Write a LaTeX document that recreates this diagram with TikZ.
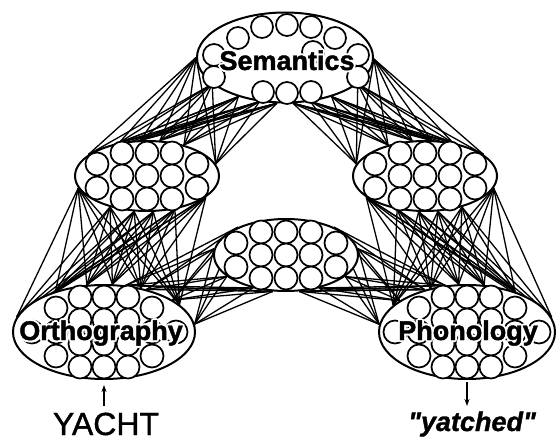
\documentclass[tikz,border=0pt]{standalone}
\usepackage{fontspec}
\usetikzlibrary{arrows.meta, shapes.geometric, backgrounds}
\newfontfamily\arialish{Liberation Sans}[FakeBold=1.2]
\newfontfamily\arialheavy{Liberation Sans Bold}[FakeBold=1.5]
\newfontfamily\arialslant{Liberation Sans Bold Italic}[FakeBold=1.2]
\tikzset{
  layer/.style = {draw=black, line width=2pt, ellipse, fill=white, inner sep=0pt},
  unit/.style  = {draw=black, line width=1.7pt, fill=white},
  link/.style  = {line width=1.3pt},
  lab/.style   = {font=\arialheavy\fontsize{27}{27}\selectfont, anchor=base, inner sep=0pt},
  inp/.style   = {-{Stealth[length=7pt, width=5pt]}, line width=1.6pt},
  word/.style  = {font=\arialish\fontsize{32}{32}\selectfont, anchor=base, inner sep=0pt},
}
\newcommand{\hiddenunits}[1]{%
  \begin{scope}[shift={(#1)}]
    \foreach \dx in {-25,0,25} \foreach \dy in {-23,0,23}
      \draw[unit] (\dx,\dy) circle (11.5pt);
    \foreach \dx in {-50,50} \foreach \dy in {-12,12}
      \draw[unit] (\dx,\dy) circle (11.5pt);
  \end{scope}}
\newcommand{\ioundunits}[1]{%
  \begin{scope}[shift={(#1)}]
    \foreach \dx in {-24,0,24} \foreach \dy in {-35,-12,12,35}
      \draw[unit] (\dx,\dy) circle (11.5pt);
    \foreach \dx in {-48,48} \foreach \dy in {-24,0,24}
      \draw[unit] (\dx,\dy) circle (11.5pt);
    \foreach \dx in {-72,72}
      \draw[unit] (\dx,0) circle (11.5pt);
  \end{scope}}
\newcommand{\layerlabel}[3]{%
  \foreach \a in {0,45,...,315}
    \node[lab, text=white, shift={(\a:2pt)}] at (#2) {#3};
  \node[lab] (#1) at (#2) {#3};}

\begin{document}
\begin{tikzpicture}[x=1pt, y=-1pt]
  \useasboundingbox (0,0) rectangle (557,441);

  \node[layer, minimum width=176pt, minimum height=90pt] (sem) at (285,57.5) {};
  \node[layer, minimum width=144pt, minimum height=70pt] (lh) at (147,176) {};
  \node[layer, minimum width=144pt, minimum height=70pt] (rh) at (425,176) {};
  \node[layer, minimum width=144pt, minimum height=72pt] (mh) at (286,255) {};
  \node[layer, minimum width=182pt, minimum height=94pt] (orth) at (104,332) {};
  \node[layer, minimum width=176pt, minimum height=94pt] (phon) at (467,332) {};

  \begin{scope}[on background layer]
    \foreach \a in {180,200,...,260} \foreach \b in {10,40,...,160}
      \draw[link] (sem.\a) -- (lh.\b);
    \foreach \a in {280,300,320,340,359} \foreach \b in {20,50,...,170}
      \draw[link] (sem.\a) -- (rh.\b);
    \foreach \a in {190,220,...,340} \foreach \b in {20,50,...,170}
      \draw[link] (lh.\a) -- (orth.\b);
    \foreach \a in {200,230,...,350} \foreach \b in {10,40,...,160}
      \draw[link] (rh.\a) -- (phon.\b);
    \foreach \a in {150,175,200,225,250} \foreach \b in {5,25,45,65}
      \draw[link] (mh.\a) -- (orth.\b);
    \foreach \a in {290,315,340,5,30} \foreach \b in {115,135,155,175}
      \draw[link] (mh.\a) -- (phon.\b);
  \end{scope}

  \foreach \p in {(262,27),(287,25),(311,27),(238,38),(335,38),(214,55),(358,55),
                  (214,77),(358,77),(263,92),(287,93),(311,92),(313,52)}
    \draw[unit] \p circle (11pt);
  \hiddenunits{147,176}
  \hiddenunits{425,176}
  \hiddenunits{286,255}
  \ioundunits{104,332}
  \ioundunits{467,332}

  \layerlabel{semlab}{287,70}{Semantics}
  \layerlabel{orthlab}{101,340}{Orthography}
  \layerlabel{phonlab}{468,340}{Phonology}

  \node[word] (yacht) at (106,435) {YACHT};
  \node[word, font=\arialslant\fontsize{27}{27}\selectfont] (yatched) at (472,431) {"yatched"};
  \coordinate (yin) at (104,406);
  \coordinate (yout) at (467,406);
  \draw[inp] (yin) -- ([yshift=-5pt]orth.south);
  \draw[inp] ([yshift=-2pt]phon.south) -- (yout);
\end{tikzpicture}
\end{document}
